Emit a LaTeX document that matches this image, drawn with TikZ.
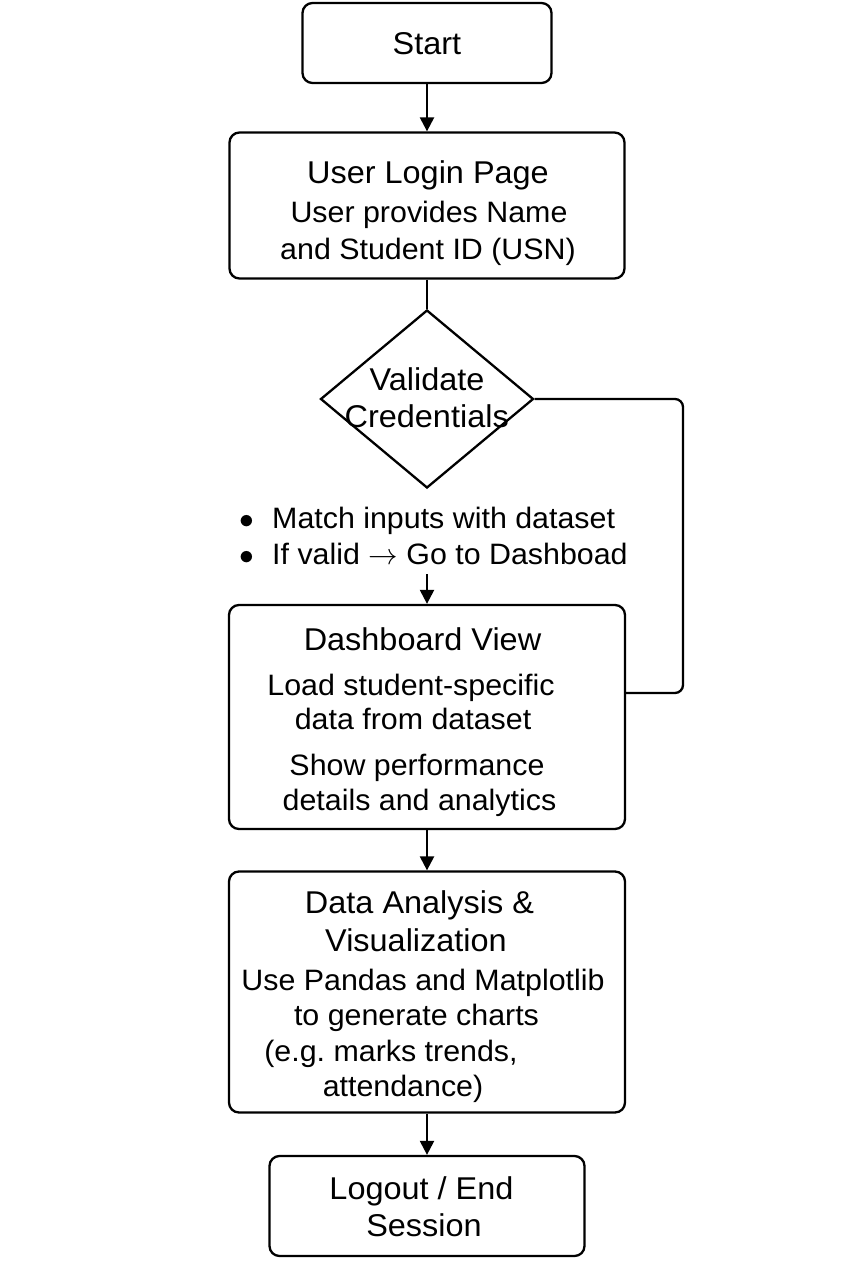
\documentclass[tikz,border=0pt]{standalone}
\usepackage{fontspec}
\setmainfont{Liberation Sans}[FakeStretch=1.03]
\DeclareFontShape{OMS}{cmsy}{m}{n}{<->cmsy10}{}
\usetikzlibrary{shapes.geometric,arrows.meta}
\newcommand{\headsize}{\fontsize{31.5}{36}\selectfont}
\newcommand{\bodysize}{\fontsize{29.5}{34}\selectfont}
\tikzset{
  flowbox/.style={draw, line width=2.3pt, rounded corners=10pt, inner sep=0pt},
  decision/.style={draw, diamond, line width=2.3pt, inner sep=0pt,
    minimum width=213pt, minimum height=178pt},
  head/.style={inner sep=0pt, text height=22.5pt, text depth=0pt, font=\headsize},
  body/.style={inner sep=0pt, text height=21pt, text depth=0pt, font=\bodysize},
  flow/.style={line width=2.3pt, -{Triangle[length=14pt,width=14pt]}},
  link/.style={line width=2.3pt}
}
\begin{document}
\begin{tikzpicture}[x=10pt,y=10pt]
    \useasboundingbox (0,0) rectangle (85.3,-128);
    % boxes
    \node[flowbox, minimum width=249pt, minimum height=80pt] (start) at (42.7,-4.3) {};
    \node[flowbox, minimum width=395pt, minimum height=146pt] (login) at (42.7,-20.55) {};
    \node[decision] (valid) at (42.7,-39.9) {};
    \node[flowbox, minimum width=396pt, minimum height=224pt] (dash) at (42.7,-71.7) {};
    \node[flowbox, minimum width=396pt, minimum height=241pt] (charts) at (42.7,-99.2) {};
    \node[flowbox, minimum width=315pt, minimum height=100pt] (logout) at (42.7,-120.6) {};
    % texts
    \node[head] (start-a) at (42.7,-4.37) {Start};
    \node[head] (login-a) at (42.8,-17.2) {User Login Page};
    \node[body] (login-b) at (42.9,-21.2) {User provides Name};
    \node[body] (login-c) at (42.8,-24.9) {and Student ID (USN)};
    \node[head] (valid-a) at (42.7,-37.9) {Validate};
    \node[head] (valid-b) at (42.67,-41.67) {Credentials};
    \node[body, anchor=west] (note-a) at (23.9,-51.8) {\makebox[33pt][l]{$\bullet$}Match inputs with dataset};
    \node[body, anchor=west] (note-b) at (23.9,-55.4) {\makebox[33pt][l]{$\bullet$}If valid $\rightarrow$ Go to Dashboad};
    \node[head] (dash-a) at (42.25,-63.9) {Dashboard View};
    \node[body] (dash-b) at (41.1,-68.5) {Load student-specific};
    \node[body] (dash-c) at (41.3,-71.9) {data from dataset};
    \node[body] (dash-d) at (41.7,-76.5) {Show performance};
    \node[body] (dash-e) at (41.95,-80.0) {details and analytics};
    \node[head] (charts-a) at (41.95,-90.2) {Data Analysis \&};
    \node[head] (charts-b) at (41.6,-94.0) {Visualization};
    \node[body] (charts-c) at (42.3,-98.0) {Use Pandas and Matplotlib};
    \node[body] (charts-d) at (41.65,-101.5) {to generate charts};
    \node[body] (charts-e) at (39.1,-105.1) {(e.g.\ marks trends,};
    \node[body] (charts-f) at (40.3,-108.6) {attendance)};
    \node[head] (logout-a) at (42.15,-118.85) {Logout / End};
    \node[head] (logout-b) at (42.4,-122.55) {Session};
    % connectors
    \coordinate (note-end) at (42.7,-57.4);
    \coordinate (loop) at (68.3,-69.3);
    \draw[flow] (start) -- (login);
    \draw[link] (login) -- (valid);
    \draw[link, rounded corners=8pt] (valid.east) -| (loop) -- (loop -| dash.east);
    \draw[flow] (note-end) -- (dash.north);
    \draw[flow] (dash) -- (charts);
    \draw[flow] (charts) -- (logout);
\end{tikzpicture}
\end{document}
